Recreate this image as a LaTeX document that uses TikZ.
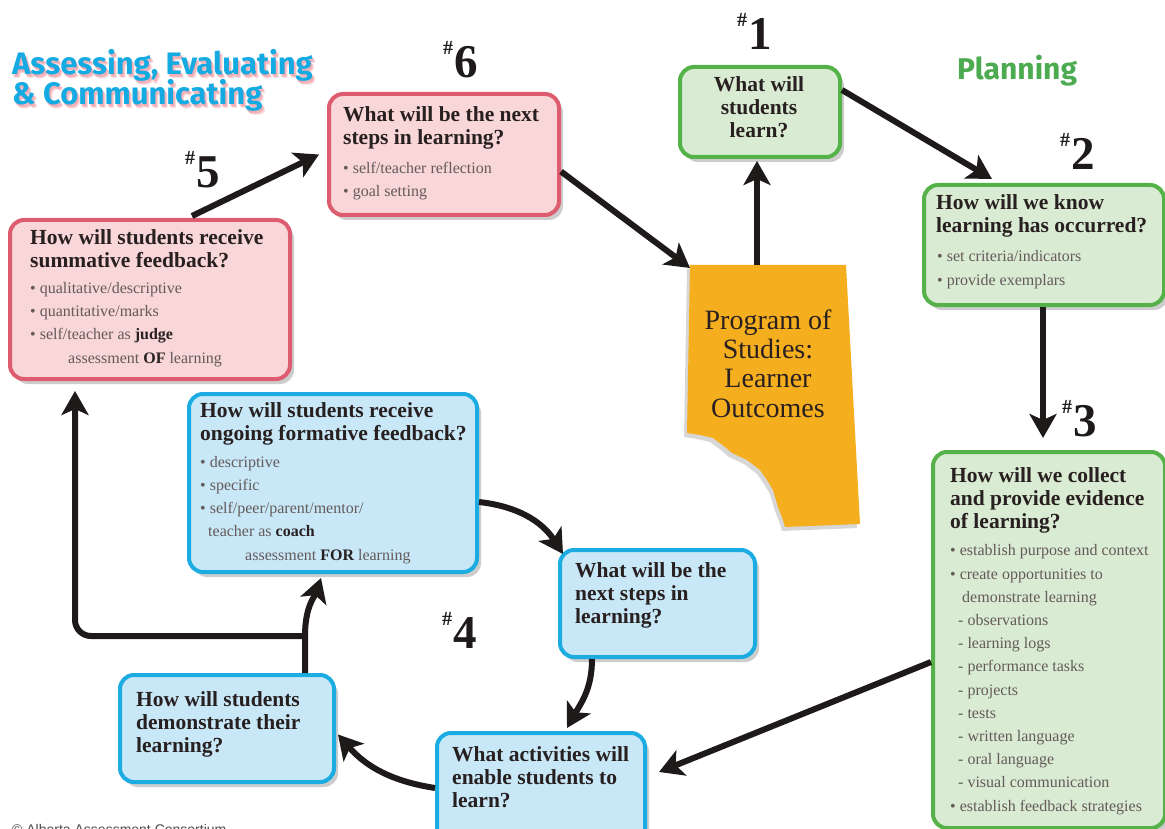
\documentclass[tikz,border=0pt]{standalone}
\usepackage{fontspec}
\setmainfont{Liberation Serif}
\newfontfamily\titlefont{Fira Sans}
\newfontfamily\notefont{Liberation Sans}
\usetikzlibrary{arrows.meta,calc,shadows}

\definecolor{gborder}{RGB}{84,178,72}
\definecolor{gfill}{RGB}{217,235,211}
\definecolor{pborder}{RGB}{222,92,112}
\definecolor{pfill}{RGB}{249,214,215}
\definecolor{bborder}{RGB}{28,172,226}
\definecolor{bfill}{RGB}{200,232,248}
\definecolor{orangefill}{RGB}{245,174,30}
\definecolor{headc}{RGB}{40,32,32}
\definecolor{itemc}{RGB}{100,90,90}
\definecolor{arrc}{RGB}{30,26,26}
\definecolor{cyantitle}{RGB}{20,170,226}
\definecolor{greentitle}{RGB}{76,170,80}
\definecolor{glowc}{RGB}{236,130,140}

\newcommand\stepno[1]{\raisebox{23pt}{\fontsize{20}{20}\selectfont\bfseries\#}\kern1pt{\fontsize{47}{47}\selectfont\bfseries #1}}

\begin{document}
\begin{tikzpicture}[x=1pt,y=-1pt,
  qbox/.style={rounded corners=14pt, line width=4pt, inner sep=0pt, anchor=north west,
    drop shadow={shadow xshift=4pt, shadow yshift=-5pt, opacity=0.28, fill=black!70}},
  gbox/.style={qbox, draw=gborder, fill=gfill},
  pbox/.style={qbox, draw=pborder, fill=pfill},
  bbox/.style={qbox, draw=bborder, fill=bfill},
  % multi-line nodes are placed by the baseline of their last line
  head/.style={font=\fontsize{21.5}{23}\selectfont\bfseries, text=headc, inner sep=0pt, anchor=base west, align=left},
  item/.style={font=\fontsize{16}{23.2}\selectfont, text=itemc, inner sep=0pt, anchor=base west, align=left},
  arr/.style={line width=6pt, draw=arrc, -{Stealth[length=24pt,width=27pt,inset=6pt]}},
  numlab/.style={anchor=base west, inner sep=0pt, text=arrc},
  ttl/.style={font=\titlefont\bfseries\fontsize{31}{33}\selectfont, anchor=base west, inner sep=0pt}
]
\useasboundingbox (0,0) rectangle (1165,829);
\fill[white] (0,0) rectangle (1165,829);

% section titles with a soft glow
\foreach \dx/\dy/\op in {3/4/0.25,2/3/0.35,1/2/0.3}{
  \node[ttl, text=glowc, opacity=\op] at (12+\dx,75+\dy) {Assessing, Evaluating};
  \node[ttl, text=glowc, opacity=\op] at (12+\dx,105+\dy) {\& Communicating};
}
\node[ttl, text=cyantitle] (ttla) at (12,75) {Assessing, Evaluating};
\node[ttl, text=cyantitle] (ttlb) at (12,105) {\& Communicating};
\node[ttl, text=greentitle, font=\titlefont\bfseries\fontsize{30}{32}\selectfont] (ttlp) at (957,80) {Planning};

% Program of Studies shape
\fill[orangefill, drop shadow={shadow xshift=-3pt, shadow yshift=-4pt, opacity=0.22, fill=black!70}]
  (690,265) -- (846,265) -- (860,524) -- (785,527)
  -- (783,520) -- (778,507) -- (773,490) -- (767,480) -- (760,470) -- (747,460)
  -- (732,453) -- (725,447) -- (713,438) -- (700,435) -- (687,433) -- cycle;
\node[font=\fontsize{28}{29.2}\selectfont, text=headc, align=center, anchor=base, inner sep=0pt] (pos) at (768,417)
  {Program of\\Studies:\\Learner\\Outcomes};
\coordinate (otop) at (757,265);
\coordinate (otl) at (690,268);

% Planning boxes
\node[gbox, minimum width=160pt, minimum height=90pt] (q1) at (678,65) {};
\node[head, align=center, anchor=base] (q1t) at (759,138) {What will\\students\\learn?};

\node[gbox, minimum width=240pt, minimum height=120pt] (q2) at (922,183) {};
\node[head] (q2h) at (936,233) {How will we know\\learning has occurred?};
\node[item] (q2i) at (937,285) {• set criteria/indicators\\• provide exemplars};

\node[gbox, minimum width=232pt, minimum height=376pt] (q3) at (931,450) {};
\node[head] (q3h) at (950,528) {How will we collect\\and provide evidence\\of learning?};
\node[item] (q3i) at (950,811) {• establish purpose and context\\
  • create opportunities to\\
  \hspace*{12pt}demonstrate learning\\
  \hspace*{8pt}- observations\\
  \hspace*{8pt}- learning logs\\
  \hspace*{8pt}- performance tasks\\
  \hspace*{8pt}- projects\\
  \hspace*{8pt}- tests\\
  \hspace*{8pt}- written language\\
  \hspace*{8pt}- oral language\\
  \hspace*{8pt}- visual communication\\
  • establish feedback strategies};

% Assessing boxes
\node[pbox, minimum width=230pt, minimum height=121pt] (p6) at (327,92) {};
\node[head] (p6h) at (343,145) {What will be the next\\steps in learning?};
\node[item] (p6i) at (343,197) {• self/teacher reflection\\• goal setting};

\node[pbox, minimum width=280pt, minimum height=159pt] (p5) at (8,218) {};
\node[head] (p5h) at (30,268) {How will students receive\\summative feedback?};
\node[item] (p5i) at (30,363) {• qualitative/descriptive\\
  • quantitative/marks\\
  • self/teacher as \textcolor{headc}{\bfseries judge}\\
  \hspace*{38pt}assessment \textcolor{headc}{\bfseries OF} learning};

% Learning cycle boxes
\node[bbox, minimum width=288pt, minimum height=178pt] (bf) at (187,392) {};
\node[head] (bfh) at (200,440) {How will students receive\\ongoing formative feedback?};
\node[item] (bfi) at (200,560) {• descriptive\\
  • specific\\
  • self/peer/parent/mentor/\\
  \hspace*{8pt}teacher as \textcolor{headc}{\bfseries coach}\\
  \hspace*{45pt}assessment \textcolor{headc}{\bfseries FOR} learning};

\node[bbox, minimum width=195pt, minimum height=107pt] (bn) at (558,548) {};
\node[head] (bnt) at (575,623) {What will be the\\next steps in\\learning?};

\node[bbox, minimum width=208pt, minimum height=110pt] (ba) at (435,731) {};
\node[head] (bat) at (452,807) {What activities will\\enable students to\\learn?};

\node[bbox, minimum width=214pt, minimum height=107pt] (bd) at (118,673) {};
\node[head] (bdt) at (136,752) {How will students\\demonstrate their\\learning?};

% step numbers
\node[numlab] (n1) at (737,50) {\stepno{1}};
\node[numlab] (n2) at (1060,170) {\stepno{2}};
\node[numlab] (n3) at (1062,436) {\stepno{3}};
\node[numlab] (n4) at (442,648) {\stepno{4}};
\node[numlab] (n5) at (185,188) {\stepno{5}};
\node[numlab] (n6) at (443,78) {\stepno{6}};

% connectors
\draw[arr] (otop) -- ($(q1.south -| otop)+(0,2)$);
\draw[arr] ([yshift=22pt]q1.east) -- ($(q2.north)+(-52,-4)$);
\draw[arr] ([xshift=-1pt]q2.south) -- ($(q2.south |- q3.north)+(-1,-12)$);
\draw[arr] ([yshift=-22pt]q3.west) -- ($(ba.east)+(12,-16)$);
\draw[arr] (ba.west) to[bend left=20] ($(bd.east)+(2,6)$);
\coordinate (jn) at (305,636);
\draw[arr] (bd.north -| jn) -- (jn) .. controls +(0,-30) and +(-6,18) .. ($(bf.south)+(-12,4)$);
\draw[arr, rounded corners=16pt] (jn) -| ($(p5.south west)+(67,10)$);
\draw[arr] ([yshift=-19pt]bf.east) .. controls +(45,5) and +(-18,-28) .. ($(bn.north west)+(5,6)$);
\draw[arr] ($(bn.south west)+(34,0)$) .. controls +(0,30) and +(14,-25) .. ($(ba.north west)+(132,-3)$);
\draw[arr] ($(p5.north)+(42,-2)$) -- ($(p6.west)+(-8,0)$);
\draw[arr] ([yshift=-17pt]p6.east) -- (otl);

% copyright line
\node[font=\notefont\fontsize{14}{14}\selectfont, text=black!70, anchor=base west, inner sep=0pt] (copy) at (12,834)
  {© Alberta Assessment Consortium};
\end{tikzpicture}
\end{document}
